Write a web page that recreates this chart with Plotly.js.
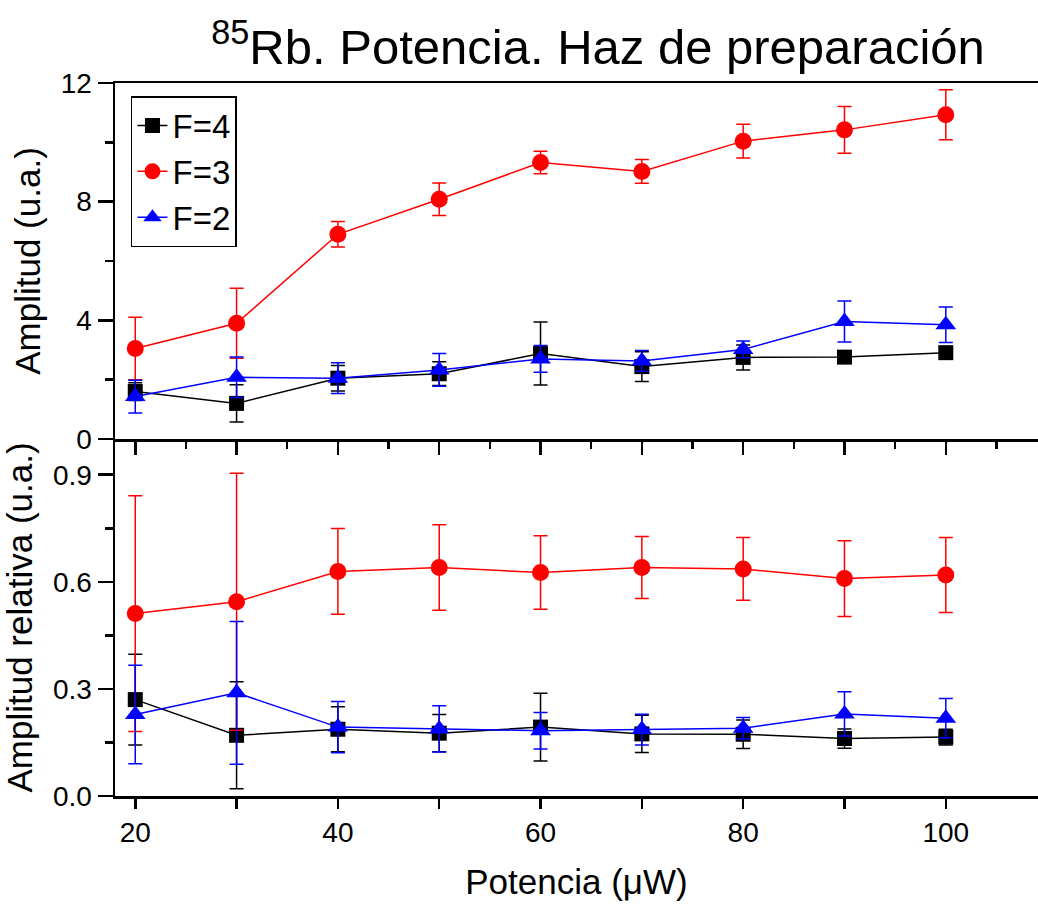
<!DOCTYPE html>
<html>
<head>
<meta charset="utf-8">
<script src="https://cdn.plot.ly/plotly-3.0.1.min.js"></script>
<style>html,body{margin:0;padding:0;background:#fff;}#chart{width:1038px;height:905px;}</style>
</head>
<body>
<div id="chart"></div>
<script>
// Data
var potencia = [20, 30, 40, 50, 60, 70, 80, 90, 100];

var ampF4 = [1.6, 1.2, 2.05, 2.2, 2.88, 2.44, 2.75, 2.76, 2.91];
var ampF4Err = [0.3, 0.63, 0.43, 0.4, 1.06, 0.5, 0.42, 0.12, 0.15];
var ampF3 = [3.05, 3.9, 6.9, 8.08, 9.32, 9.02, 10.04, 10.42, 10.93];
var ampF3Err = [1.05, 1.18, 0.43, 0.55, 0.38, 0.4, 0.57, 0.79, 0.84];
var ampF2 = [1.43, 2.08, 2.05, 2.33, 2.7, 2.63, 3.02, 3.96, 3.85];
var ampF2Err = [0.55, 0.68, 0.52, 0.55, 0.45, 0.35, 0.28, 0.69, 0.6];

var relF4 = [0.27, 0.17, 0.187, 0.176, 0.193, 0.174, 0.173, 0.161, 0.165];
var relF4Err = [0.127, 0.15, 0.063, 0.052, 0.095, 0.052, 0.04, 0.027, 0.022];
var relF3 = [0.511, 0.544, 0.629, 0.640, 0.626, 0.640, 0.636, 0.609, 0.619];
var relF3Err = [0.33, 0.36, 0.12, 0.12, 0.103, 0.087, 0.088, 0.106, 0.105];
var relF2 = [0.228, 0.289, 0.193, 0.188, 0.183, 0.186, 0.19, 0.23, 0.218];
var relF2Err = [0.138, 0.2, 0.072, 0.065, 0.051, 0.043, 0.03, 0.062, 0.055];

var seriesNames = ['F=4', 'F=3', 'F=2'];
var xTickVals = [20, 40, 60, 80, 100];
var xTickText = ['20', '40', '60', '80', '100'];

var colors = ['#000000', '#ff0000', '#0000ff'];
var symbols = ['square', 'circle', 'triangle-up'];
var sizes = [15, 17, 18];

function mk(y, err, i, xa, ya, show) {
  return {
    x: potencia, y: y, type: 'scatter', mode: 'lines+markers',
    name: seriesNames[i], showlegend: show,
    xaxis: xa, yaxis: ya,
    line: {color: colors[i], width: 1.5},
    marker: {symbol: symbols[i], size: sizes[i], color: colors[i]},
    error_y: {type: 'data', array: err, visible: true, color: colors[i], thickness: 1.5, width: 7}
  };
}

var traces = [
  mk(ampF4, ampF4Err, 0, 'x', 'y', true),
  mk(ampF3, ampF3Err, 1, 'x', 'y', true),
  mk(ampF2, ampF2Err, 2, 'x', 'y', true),
  mk(relF4, relF4Err, 0, 'x2', 'y2', false),
  mk(relF3, relF3Err, 1, 'x2', 'y2', false),
  mk(relF2, relF2Err, 2, 'x2', 'y2', false)
];

var font = 'Liberation Sans, Arial, sans-serif';
var split = (796 - 439) / 713;

var layout = {
  width: 1038, height: 905,
  margin: {l: 115, r: 0, t: 83, b: 109},
  paper_bgcolor: '#fff', plot_bgcolor: '#fff',
  font: {family: font, color: '#000', size: 28},
  title: {
    text: '<sup>85</sup>Rb. Potencia. Haz de preparación',
    font: {family: font, size: 49, color: '#000'},
    xref: 'container', x: 598 / 1038, xanchor: 'center',
    yref: 'container', y: 1 - 47 / 905, yanchor: 'middle'
  },
  showlegend: true,
  legend: {
    x: 0.0173, y: (796 - 96) / 713, xanchor: 'left', yanchor: 'top',
    xref: 'paper', yref: 'paper',
    bgcolor: '#fff', bordercolor: '#000', borderwidth: 1.5,
    font: {family: font, size: 33, color: '#000'},
    tracegroupgap: 0
  },
  xaxis: {
    domain: [0, 1], anchor: 'y', range: [18, 109.1],
    showline: true, linewidth: 2.5, linecolor: '#000', mirror: true,
    ticks: 'outside', ticklen: 13, tickwidth: 2.5, tickcolor: '#000',
    tickmode: 'linear', tick0: 20, dtick: 10, showticklabels: false,
    minor: {dtick: 5, tick0: 20, ticks: 'outside', ticklen: 7, tickwidth: 2.5, tickcolor: '#000', showgrid: false},
    showgrid: false, zeroline: false
  },
  yaxis: {
    domain: [split, 1], anchor: 'x', range: [0, 12],
    showline: true, linewidth: 2.5, linecolor: '#000',
    ticks: 'outside', ticklen: 15, tickwidth: 2.5, tickcolor: '#000',
    tickmode: 'linear', tick0: 0, dtick: 4,
    minor: {dtick: 2, ticks: 'outside', ticklen: 8, tickwidth: 2.5, tickcolor: '#000', showgrid: false},
    tickfont: {size: 28},
    showgrid: false, zeroline: false,
    title: {text: 'Amplitud (u.a.)', font: {size: 35}, standoff: 10}
  },
  xaxis2: {
    domain: [0, 1], anchor: 'y2', range: [18, 109.1],
    showline: true, linewidth: 2.5, linecolor: '#000',
    ticks: 'outside', ticklen: 10, tickwidth: 2.5, tickcolor: '#000',
    tickmode: 'array', tickvals: xTickVals, ticktext: xTickText,
    minor: {tickmode: 'array', tickvals: [30, 50, 70, 90], ticks: 'outside', ticklen: 10, tickwidth: 2.5, tickcolor: '#000', showgrid: false},
    tickfont: {size: 28},
    showgrid: false, zeroline: false,
    title: {text: 'Potencia (μW)', font: {size: 35}, standoff: 23}
  },
  yaxis2: {
    domain: [0, split], anchor: 'x2', range: [0, 1.0],
    showline: true, linewidth: 2.5, linecolor: '#000',
    ticks: 'outside', ticklen: 15, tickwidth: 2.5, tickcolor: '#000',
    tickmode: 'linear', tick0: 0, dtick: 0.3, tickformat: '.1f',
    minor: {dtick: 0.15, ticks: 'outside', ticklen: 8, tickwidth: 2.5, tickcolor: '#000', showgrid: false},
    tickfont: {size: 28},
    showgrid: false, zeroline: false,
    title: {text: 'Amplitud relativa (u.a.)', font: {size: 35}, standoff: 10}
  }
};

Plotly.newPlot('chart', traces, layout, {displayModeBar: false, staticPlot: true});
</script>
</body>
</html>
